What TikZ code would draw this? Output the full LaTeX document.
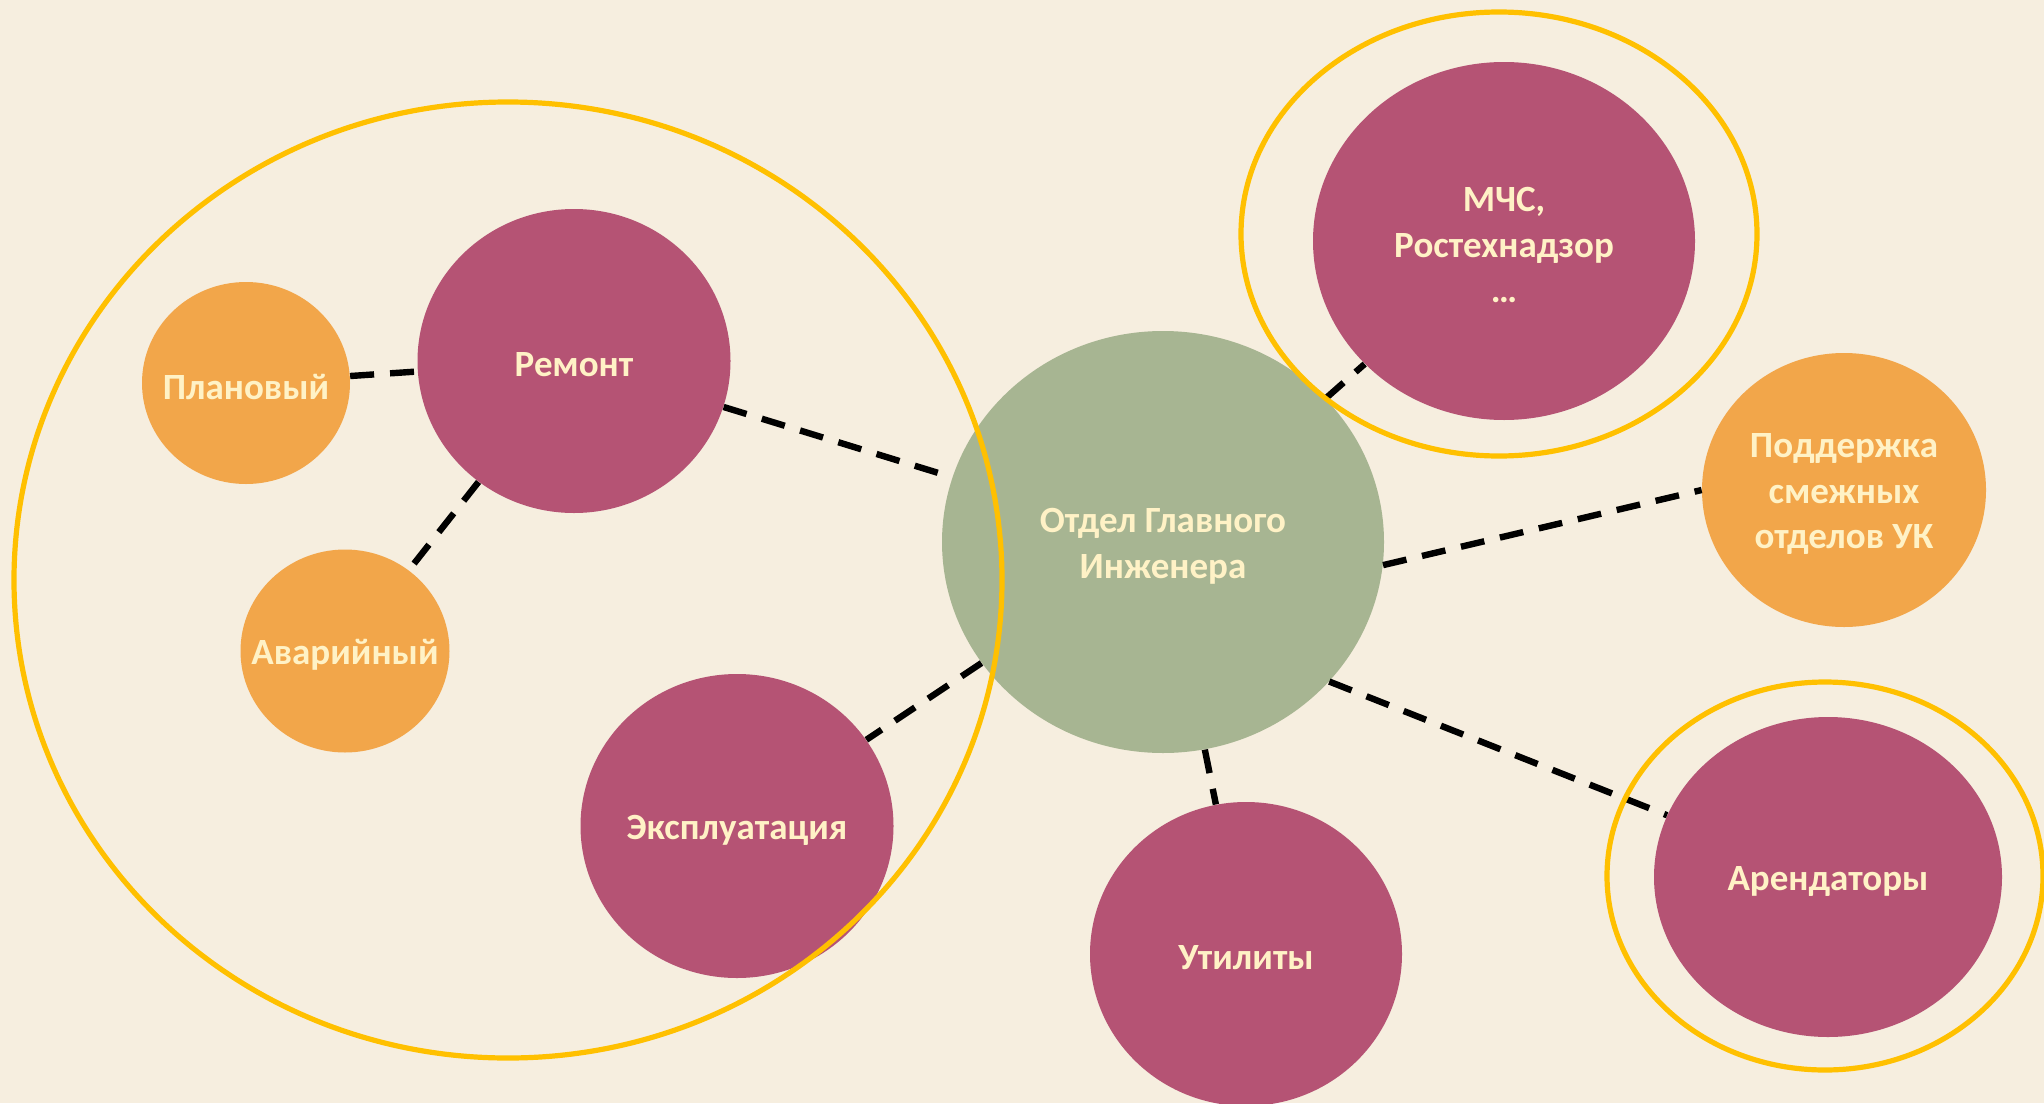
\documentclass[tikz,border=0pt]{standalone}
\usepackage{fontspec}
\setmainfont{Carlito}
\usepackage{tikz}
\usetikzlibrary{shapes,positioning}
\definecolor{bg}{HTML}{F6EEDF}
\definecolor{plum}{HTML}{B55374}
\definecolor{apricot}{HTML}{F2A64A}
\definecolor{sage}{HTML}{A7B592}
\definecolor{ring}{HTML}{FFC000}
\definecolor{cream}{HTML}{FFF2C6}

\begin{document}
\begin{tikzpicture}[inner sep=0pt,x=0.5pt,y=-0.5pt]
  \fill[bg](0,0)rectangle(2044,1103);
  \useasboundingbox(0,0)rectangle(2044,1103);
  \tikzstyle{v}=[ellipse]
  \tikzstyle{t}=[text=cream,align=center,inner sep=0pt,yshift=-2pt,font=\bfseries\fontsize{18.5}{22.8}\selectfont]
  \node[v,fill=sage,minimum width=221pt,minimum height=211pt,label={[t]center:{Отдел Главного\\Инженера}}](ogi)at(1163,542){};
  \node[v,fill=plum,minimum width=156.5pt,minimum height=152pt,label={[t]center:Ремонт}](remont)at(574,361){};
  \node[v,fill=apricot,minimum width=104pt,minimum height=101pt,label={[t]center:Плановый}](plan)at(246,383){};
  \node[v,fill=apricot,minimum width=104.5pt,minimum height=101.5pt,label={[t]center:Аварийный}](avar)at(345,651){};
  \node[v,fill=plum,minimum width=156.5pt,minimum height=152pt,label={[t]center:Эксплуатация}](expl)at(737,826){};
  \node[v,fill=plum,minimum width=191pt,minimum height=179pt,label={[t]center:{МЧС,\\Ростехнадзор\\…}}](mchs)at(1504,241){};
  \node[v,fill=apricot,minimum width=142pt,minimum height=137pt,label={[t]center:{Поддержка\\смежных\\отделов УК}}](podd)at(1844,490){};
  \node[v,fill=plum,minimum width=156pt,minimum height=152pt,label={[t]center:Утилиты}](util)at(1246,954){};
  \node[v,fill=plum,minimum width=174pt,minimum height=160pt,label={[t]center:Арендаторы}](arend)at(1828,877){};
  \tikzstyle{e}=[draw=black,line width=3.2pt,dash pattern=on 12pt off 8pt]
  \foreach\o/\d in{plan/remont,remont/avar,remont/ogi,ogi/expl,ogi/mchs,ogi/util}{\draw[e](\o)--(\d);}
  \draw[e](ogi.-6)--(podd.180);
  \draw[e](ogi.-40)--(arend.159);
  \tikzstyle{r}=[draw=ring,line width=2.6pt]
  \draw[r](508,580)ellipse[x radius=494,y radius=478];
  \draw[r](1499,234)ellipse[x radius=258,y radius=222];
  \draw[r](1825,876)ellipse[x radius=218,y radius=194];
\end{tikzpicture}
\end{document}
